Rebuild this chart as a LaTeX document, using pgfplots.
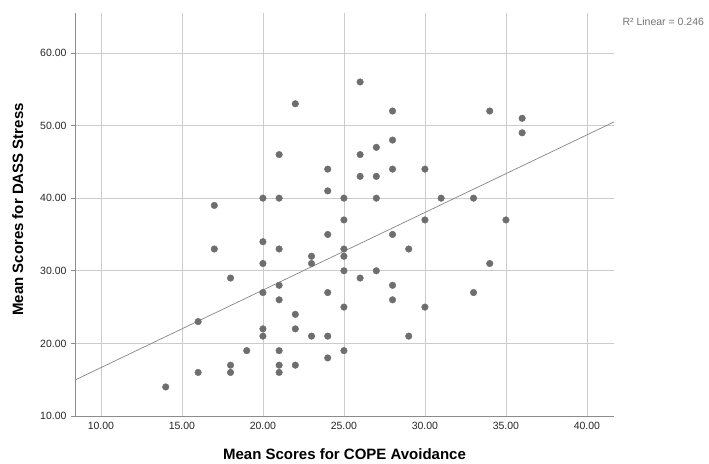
\documentclass[border=0pt]{standalone}
\usepackage{fontspec}
\setmainfont{Liberation Sans}
\usepackage{pgfplots}
\pgfplotsset{compat=1.18}

\definecolor{dotgray}{HTML}{6E6E6E}
\definecolor{gridgray}{HTML}{CCCCCC}
\definecolor{axisgray}{HTML}{8C8C8C}
\definecolor{fitgray}{HTML}{858585}

\begin{document}
\begin{tikzpicture}
\begin{axis}[
    scale only axis,
    width=539pt, height=403pt,
    xmin=8.4, xmax=41.67,
    ymin=10, ymax=65.5,
    xtick={10,15,...,40},
    ytick={10,20,...,60},
    axis x line*=bottom,
    axis y line*=left,
    axis line style={axisgray, line width=0.8pt},
    grid=major,
    grid style={gridgray, line width=0.7pt},
    tick align=outside,
    major tick length=4pt,
    xtick style={draw=none},
    ytick style={axisgray, line width=0.7pt},
    tick label style={font=\fontsize{10.5}{12}\selectfont, black!85},
    /pgf/number format/.cd, fixed, fixed zerofill, precision=2, assume math mode=true,
    /pgfplots/.cd,
    xticklabel style={yshift=1pt},
    yticklabel style={xshift=-1pt},
    xlabel={Mean Scores for COPE Avoidance},
    ylabel={Mean Scores for DASS Stress},
    label style={font=\fontsize{15}{17}\selectfont\bfseries, black},
    xlabel style={yshift=-12pt},
    ylabel style={yshift=10pt, xshift=5pt},
    clip=false,
]

% observed cases
\addplot[only marks, mark=*, mark size=3.3pt, dotgray, mark options={draw=dotgray, fill=dotgray}] coordinates {
    (14,14)
    (16,23) (16,16)
    (17,39) (17,33)
    (18,29) (18,17) (18,16)
    (19,19)
    (20,40) (20,34) (20,31) (20,27) (20,22) (20,21)
    (21,46) (21,40) (21,33) (21,28) (21,26) (21,19) (21,17) (21,16)
    (22,53) (22,24) (22,22) (22,17)
    (23,32) (23,31) (23,21)
    (24,44) (24,41) (24,35) (24,27) (24,21) (24,18)
    (25,40) (25,37) (25,33) (25,32) (25,30) (25,25) (25,19)
    (26,56) (26,46) (26,43) (26,29)
    (27,47) (27,43) (27,40) (27,30)
    (28,52) (28,48) (28,44) (28,35) (28,28) (28,26)
    (29,33) (29,21)
    (30,44) (30,37) (30,25)
    (31,40)
    (33,40) (33,27)
    (34,52) (34,31)
    (35,37)
    (36,51) (36,49)
};

% linear fit
\addplot[fitgray, line width=0.7pt, no markers] coordinates {(8.4,14.95) (41.67,50.5)};

\coordinate (sw) at (rel axis cs:0,0);
\coordinate (ne) at (rel axis cs:1,1);
\node[anchor=west, font=\fontsize{10.5}{12}\selectfont, black!55] at ([shift={(5pt,-9pt)}]ne) {R² Linear = 0.246};
\end{axis}
\pgfresetboundingbox
\path[use as bounding box] ([shift={(-75pt,-47pt)}]sw) rectangle ([shift={(95pt,13pt)}]ne);
\end{tikzpicture}
\end{document}
